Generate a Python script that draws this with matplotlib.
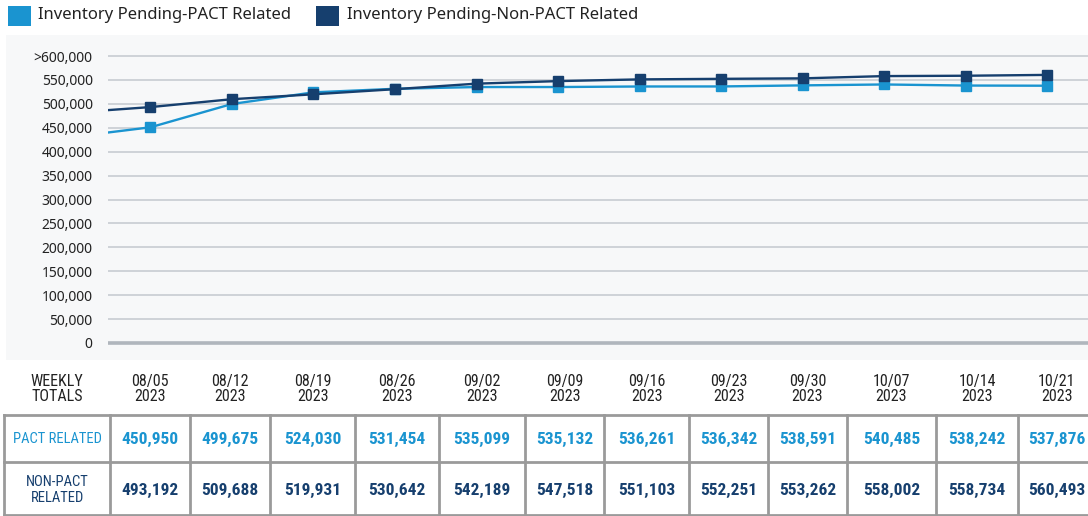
import numpy as np
import matplotlib.pyplot as plt
from matplotlib.patches import Rectangle
from matplotlib.lines import Line2D

# weekly inventory data
weeks = ['08/05\n2023', '08/12\n2023', '08/19\n2023', '08/26\n2023', '09/02\n2023', '09/09\n2023',
         '09/16\n2023', '09/23\n2023', '09/30\n2023', '10/07\n2023', '10/14\n2023', '10/21\n2023']
pact = [450950, 499675, 524030, 531454, 535099, 535132, 536261, 536342, 538591, 540485, 538242, 537876]
non_pact = [493192, 509688, 519931, 530642, 542189, 547518, 551103, 552251, 553262, 558002, 558734, 560493]
# previous week (line enters from the left edge of the plot)
pact_prev = 430000
non_pact_prev = 481000

y_ticks = [0, 50000, 100000, 150000, 200000, 250000, 300000, 350000, 400000, 450000, 500000, 550000, 600000]
y_labels = ['0', '50,000', '100,000', '150,000', '200,000', '250,000', '300,000', '350,000',
            '400,000', '450,000', '500,000', '550,000', '>600,000']

light = '#1a94d0'
dark = '#163f6e'
grid_c = '#c4c9cf'
tbl_c = '#9a9a9a'

W, H = 1088, 516
fig = plt.figure(figsize=(W / 100, H / 100), dpi=100)
fig.patch.set_facecolor('white')


def fx(x):
    return x / W


def fy(y):
    return 1 - y / H


# light gray panel behind chart
fig.add_artist(Rectangle((fx(6), fy(360)), fx(W) - fx(6), fy(35) - fy(360),
                         transform=fig.transFigure, facecolor='#f7f8f9', edgecolor='none', zorder=0))

# axes: value 0 at y=343px, 600000 at y=56px
ppu = (343 - 56) / 600000
ylo, yhi = -12000, 625000
bot_px = 343 + (0 - ylo) * ppu
top_px = 56 - (yhi - 600000) * ppu
ax = fig.add_axes([fx(108), fy(bot_px), 1 - fx(108), fy(top_px) - fy(bot_px)])
ax.set_facecolor('none')
ax.set_ylim(ylo, yhi)
ax.set_xlim(-0.52, 11.5)

for v in y_ticks:
    ax.axhline(v, color='#b0b6bd' if v == 0 else grid_c, lw=2.6 if v == 0 else 1.1, zorder=1)

x = np.arange(len(weeks))
xe = np.concatenate([[-1], x])
ax.plot(xe, [pact_prev] + pact, color=light, lw=1.7, zorder=3)
ax.plot(x, pact, 's', color=light, ms=7.5, zorder=3)
ax.plot(xe, [non_pact_prev] + non_pact, color=dark, lw=1.7, zorder=4)
ax.plot(x, non_pact, 's', color=dark, ms=7.5, zorder=4)

ax.set_yticks(y_ticks)
ax.set_yticklabels(y_labels, fontsize=10, family='Noto Sans', color='#222222')
ax.tick_params(axis='y', length=0, pad=11)
ax.set_xticks([])
for s in ax.spines.values():
    s.set_visible(False)

# legend
fig.add_artist(Rectangle((fx(8), fy(26)), fx(23), fy(6) - fy(26), transform=fig.transFigure,
                         facecolor=light, edgecolor='none'))
fig.text(fx(38), fy(15), 'Inventory Pending-PACT Related', fontsize=12, family='Noto Sans',
         va='center', ha='left', color='#222222')
fig.add_artist(Rectangle((fx(316), fy(26)), fx(23), fy(6) - fy(26), transform=fig.transFigure,
                         facecolor=dark, edgecolor='none'))
fig.text(fx(347), fy(15), 'Inventory Pending-Non-PACT Related', fontsize=12, family='Noto Sans',
         va='center', ha='left', color='#222222')

# table below the chart
cols = [4, 110, 190, 270, 355, 439, 525, 604, 689, 768, 847, 936, 1018, 1095]
row_y = [415, 462, 515]
cond = 'Roboto Condensed'

fig.text(fx(57), fy(389), 'WEEKLY\nTOTALS', fontsize=11.5, family=cond, ha='center', va='center',
         color='#222222', linespacing=1.05)
for i, lab in enumerate(weeks):
    cx = (cols[i + 1] + cols[i + 2]) / 2
    fig.text(fx(cx), fy(389), lab, fontsize=11.5, family=cond, ha='center', va='center',
             color='#222222', linespacing=1.05)
    fig.text(fx(cx), fy(439), f'{pact[i]:,}', fontsize=12.5, family=cond, weight='bold',
             ha='center', va='center', color=light)
    fig.text(fx(cx), fy(490), f'{non_pact[i]:,}', fontsize=12.5, family=cond, weight='bold',
             ha='center', va='center', color=dark)

fig.text(fx(57), fy(439), 'PACT RELATED', fontsize=10.5, family=cond, ha='center', va='center', color=light)
fig.text(fx(57), fy(490), 'NON-PACT\nRELATED', fontsize=10.5, family=cond, ha='center', va='center',
         color=dark, linespacing=1.1)

for yy in row_y:
    fig.add_artist(Line2D([fx(4), 1], [fy(yy), fy(yy)], transform=fig.transFigure, color=tbl_c, lw=2))
for xx in cols[:-1]:
    fig.add_artist(Line2D([fx(xx), fx(xx)], [fy(415), fy(516)], transform=fig.transFigure,
                          color=tbl_c, lw=2))

fig.savefig('out.png', dpi=100)
